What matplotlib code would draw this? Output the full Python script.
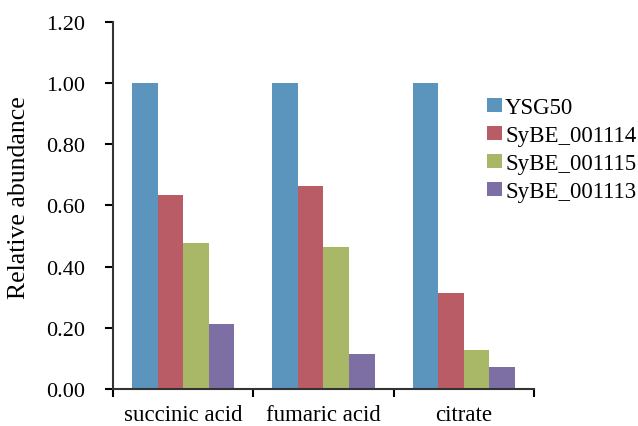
import numpy as np
import matplotlib.pyplot as plt

# Data
categories = ['succinic acid', 'fumaric acid', 'citrate']
strains = ['YSG50', 'SyBE_001114', 'SyBE_001115', 'SyBE_001113']
ysg50 = [1.00, 1.00, 1.00]
sybe_001114 = [0.634, 0.664, 0.314]
sybe_001115 = [0.478, 0.465, 0.128]
sybe_001113 = [0.213, 0.113, 0.073]
colors = ['#5B95BD', '#B95C66', '#A9B866', '#7D6FA3']

plt.rcParams['font.family'] = ['Liberation Serif', 'DejaVu Serif']

fig = plt.figure(figsize=(6.38, 4.27), dpi=100)
ax = fig.add_axes([0.177, 0.087, 0.66, 0.859])

x = np.arange(len(categories))
width = 0.182
series = [ysg50, sybe_001114, sybe_001115, sybe_001113]
for i, (name, vals) in enumerate(zip(strains, series)):
    offset = (i - 1.5) * width
    ax.bar(x + offset, vals, width, color=colors[i], label=name)

ax.set_xlim(-0.5, len(categories) - 0.5)
ax.set_ylim(0, 1.2)
ax.set_yticks(np.arange(0, 1.21, 0.2))
ax.set_yticklabels(['%.2f' % v for v in np.arange(0, 1.21, 0.2)], fontsize=16)
ax.set_xticks(x)
ax.set_xticklabels(categories, fontsize=16.5)
ax.set_xticks(np.arange(-0.5, len(categories), 1), minor=True)
ax.tick_params(axis='x', which='major', length=0, pad=11)
ax.tick_params(axis='x', which='minor', length=6, width=1.5, direction='out')
ax.tick_params(axis='y', length=6, width=1.5, direction='out', pad=14)

for side in ['top', 'right']:
    ax.spines[side].set_visible(False)
for side in ['left', 'bottom']:
    ax.spines[side].set_linewidth(1.5)
    ax.spines[side].set_color('#333333')

ax.set_ylabel('Relative abundance', fontsize=18.5)
ax.yaxis.set_label_coords(-0.198, 0.525)

ax.legend(loc='upper left', bbox_to_anchor=(0.888, 0.795), frameon=False,
          fontsize=16.5, handlelength=0.65, handleheight=0.6, handletextpad=0.15,
          labelspacing=0.3, borderaxespad=0, borderpad=0)

fig.savefig('out.png', dpi=100)
